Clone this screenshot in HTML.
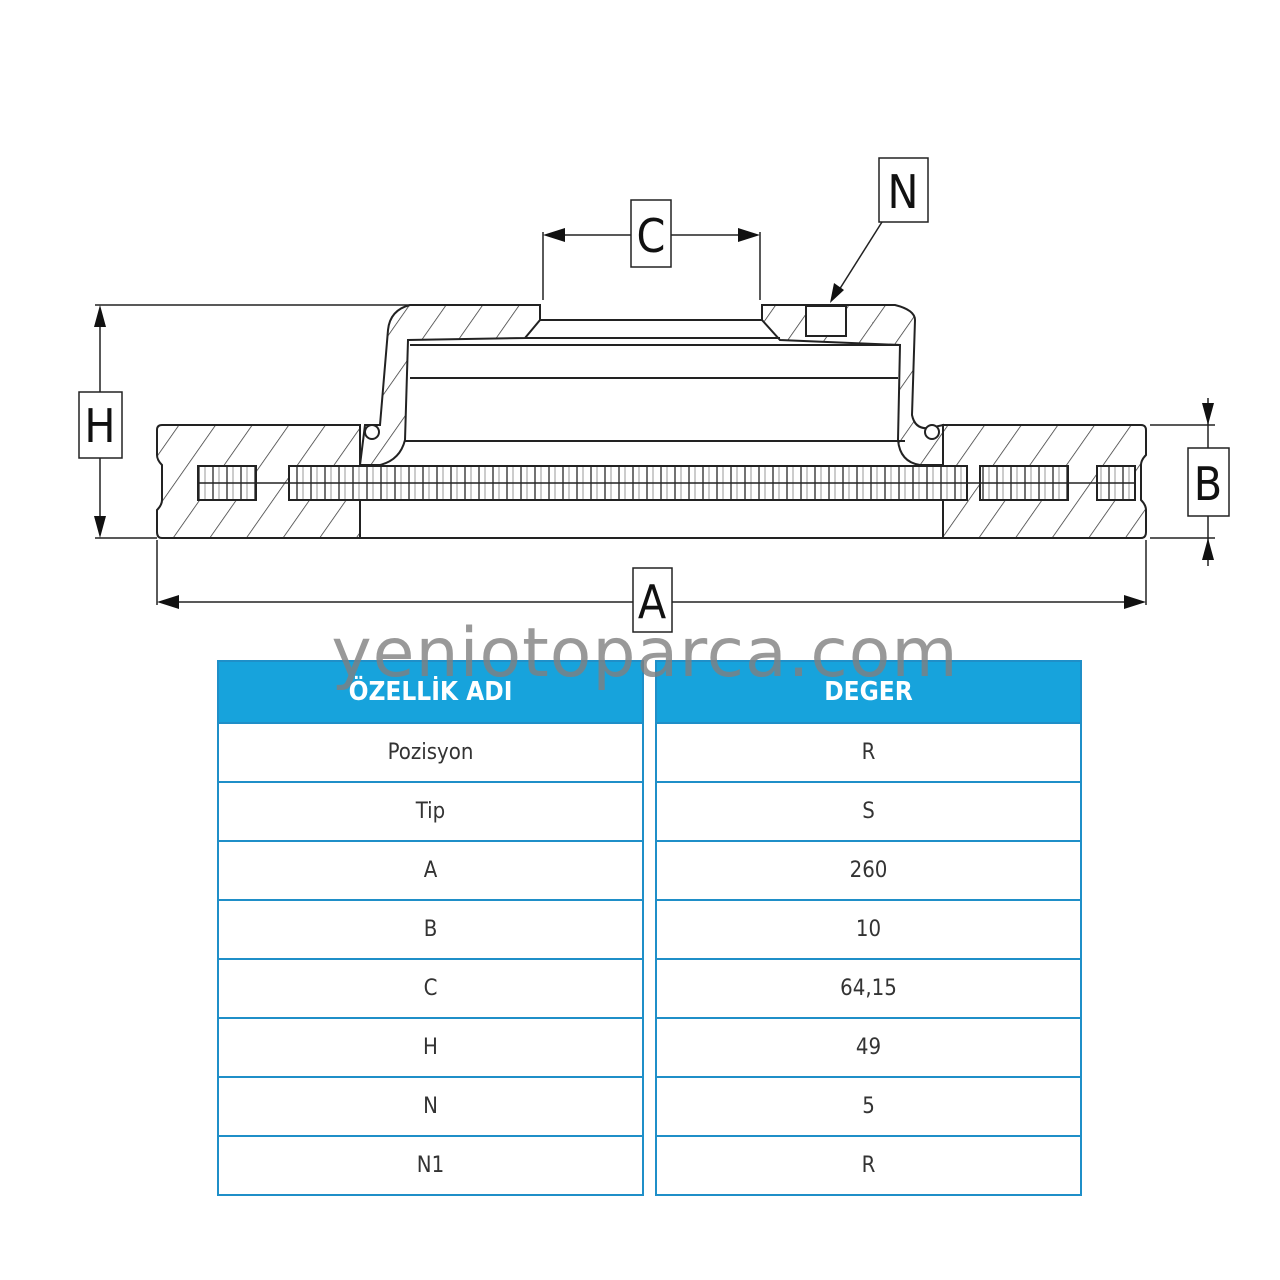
<!DOCTYPE html>
<html><head><meta charset="utf-8"><style>
html,body{margin:0;padding:0;background:#fff;}
body{width:1280px;height:1280px;position:relative;overflow:hidden;font-family:"Liberation Sans",sans-serif;}
.wm{position:absolute;left:0;width:1290px;top:614px;text-align:center;font-size:68px;line-height:80px;color:#808080;opacity:.8;letter-spacing:1px;font-family:"DejaVu Sans","Liberation Sans",sans-serif;z-index:5;}
table{position:absolute;border-collapse:separate;border-spacing:0;}
td{border:2px solid #1f8fc8;border-top:none;height:57px;padding:0;text-align:center;font-size:22px;color:#333;font-family:"DejaVu Sans Condensed","Liberation Sans Narrow","Liberation Sans",sans-serif;}
th{background:#17a3dc;color:#fff;height:60px;padding:0;font-size:26px;font-weight:bold;border:2px solid #1f8fc8;font-family:"DejaVu Sans Condensed","Liberation Sans Narrow",sans-serif;}
</style></head><body>
<svg width="1280" height="1280" style="position:absolute;left:0;top:0">
<defs>
<pattern id="h" width="30" height="30" patternUnits="userSpaceOnUse" patternTransform="rotate(35)">
<rect width="30" height="30" fill="#fff"/><line x1="0" y1="0" x2="0" y2="30" stroke="#333" stroke-width="1.5"/></pattern>
<pattern id="v" width="14" height="40" patternUnits="userSpaceOnUse">
<rect width="14" height="40" fill="#fff"/><line x1="3" y1="0" x2="3" y2="40" stroke="#444" stroke-width="1.5"/><line x1="9" y1="0" x2="9" y2="40" stroke="#999" stroke-width="1"/></pattern>
</defs>
<g stroke="#222" stroke-width="2" fill="none">
<path d="M162,425 L360,425 L360,538 L162,538 Q157,538 157,532 L157,510 Q162,505 162,500 L162,465 Q157,460 157,455 L157,430 Q157,425 162,425Z" fill="url(#h)"/>
<path d="M943,425 L1141,425 Q1146,425 1146,430 L1146,455 Q1141,460 1141,465 L1141,500 Q1146,505 1146,510 L1146,532 Q1146,538 1141,538 L943,538Z" fill="url(#h)"/>
<path d="M365,425 L380,425 L388,330 Q390,310 410,305 L540,305 L540,320 L525,338 L408,340 L405,440 Q400,460 380,465 L360,465Z" fill="url(#h)"/>
<path d="M762,305 L895,305 Q915,310 915,320 L912,415 Q915,430 930,428 L943,425 L943,465 L920,465 Q900,462 898,440 L900,345 L780,340 L762,320Z" fill="url(#h)"/>
<rect x="806" y="306" width="40" height="30" fill="#fff"/>
<circle cx="372" cy="432" r="7" fill="#fff"/><circle cx="932" cy="432" r="7" fill="#fff"/>
<line x1="540" y1="320" x2="762" y2="320"/>
<line x1="525" y1="338" x2="780" y2="338"/>
<line x1="410" y1="345" x2="900" y2="345"/>
<line x1="410" y1="378" x2="898" y2="378"/>
<line x1="405" y1="441" x2="905" y2="441"/>
<line x1="360" y1="538" x2="943" y2="538"/>
<line x1="360" y1="500" x2="943" y2="500" stroke-width="1.5"/>
<rect x="198" y="466" width="58" height="34" fill="url(#v)"/>
<rect x="289" y="466" width="678" height="34" fill="url(#v)"/>
<rect x="980" y="466" width="88" height="34" fill="url(#v)"/>
<rect x="1097" y="466" width="38" height="34" fill="url(#v)"/>
<line x1="198" y1="483" x2="1135" y2="483" stroke-width="1.5"/>
</g>
<g stroke="#222" stroke-width="1.5" fill="none">
<line x1="95" y1="305" x2="540" y2="305"/><line x1="95" y1="538" x2="157" y2="538"/>
<line x1="100" y1="310" x2="100" y2="533"/>
<line x1="1150" y1="425" x2="1215" y2="425"/><line x1="1150" y1="538" x2="1215" y2="538"/>
<line x1="1208" y1="398" x2="1208" y2="566"/>
<line x1="157" y1="540" x2="157" y2="605"/><line x1="1146" y1="540" x2="1146" y2="605"/>
<line x1="162" y1="602" x2="1141" y2="602"/>
<line x1="543" y1="232" x2="543" y2="300"/><line x1="760" y1="232" x2="760" y2="300"/>
<line x1="548" y1="235" x2="755" y2="235"/>
<line x1="882" y1="222" x2="834" y2="298"/>
</g>
<g fill="#111">
<path d="M100,305 l-6,22 h12z"/><path d="M100,538 l-6,-22 h12z"/>
<path d="M1208,425 l-6,-22 h12z"/><path d="M1208,538 l-6,22 h12z"/>
<path d="M157,602 l22,-7 v14z"/><path d="M1146,602 l-22,-7 v14z"/>
<path d="M543,235 l22,-7 v14z"/><path d="M760,235 l-22,-7 v14z"/>
<path d="M830,303 l4,-20 l10,7z"/>
</g>
<g fill="#fff" stroke="#222" stroke-width="1.5">
<rect x="79" y="392" width="43" height="66"/>
<rect x="1188" y="448" width="41" height="68"/>
<rect x="633" y="568" width="39" height="64"/>
<rect x="631" y="200" width="40" height="67"/>
<rect x="879" y="158" width="49" height="64"/>
</g>
<g font-family="DejaVu Sans Condensed,Liberation Sans Narrow,sans-serif" font-size="46" fill="#111" text-anchor="middle">
<text x="100" y="442">H</text><text x="1208" y="500">B</text><text x="652" y="618">A</text><text x="651" y="252">C</text><text x="903" y="208">N</text>
</g>
</svg>
<table style="left:217px;top:660px;width:427px"><tr><th>ÖZELLİK ADI</th></tr>
<tr><td>Pozisyon</td></tr><tr><td>Tip</td></tr><tr><td>A</td></tr><tr><td>B</td></tr><tr><td>C</td></tr><tr><td>H</td></tr><tr><td>N</td></tr><tr><td>N1</td></tr></table>
<table style="left:655px;top:660px;width:427px"><tr><th>DEGER</th></tr>
<tr><td>R</td></tr><tr><td>S</td></tr><tr><td>260</td></tr><tr><td>10</td></tr><tr><td>64,15</td></tr><tr><td>49</td></tr><tr><td>5</td></tr><tr><td>R</td></tr></table>
<div class="wm">yeniotoparca.com</div>
</body></html>
